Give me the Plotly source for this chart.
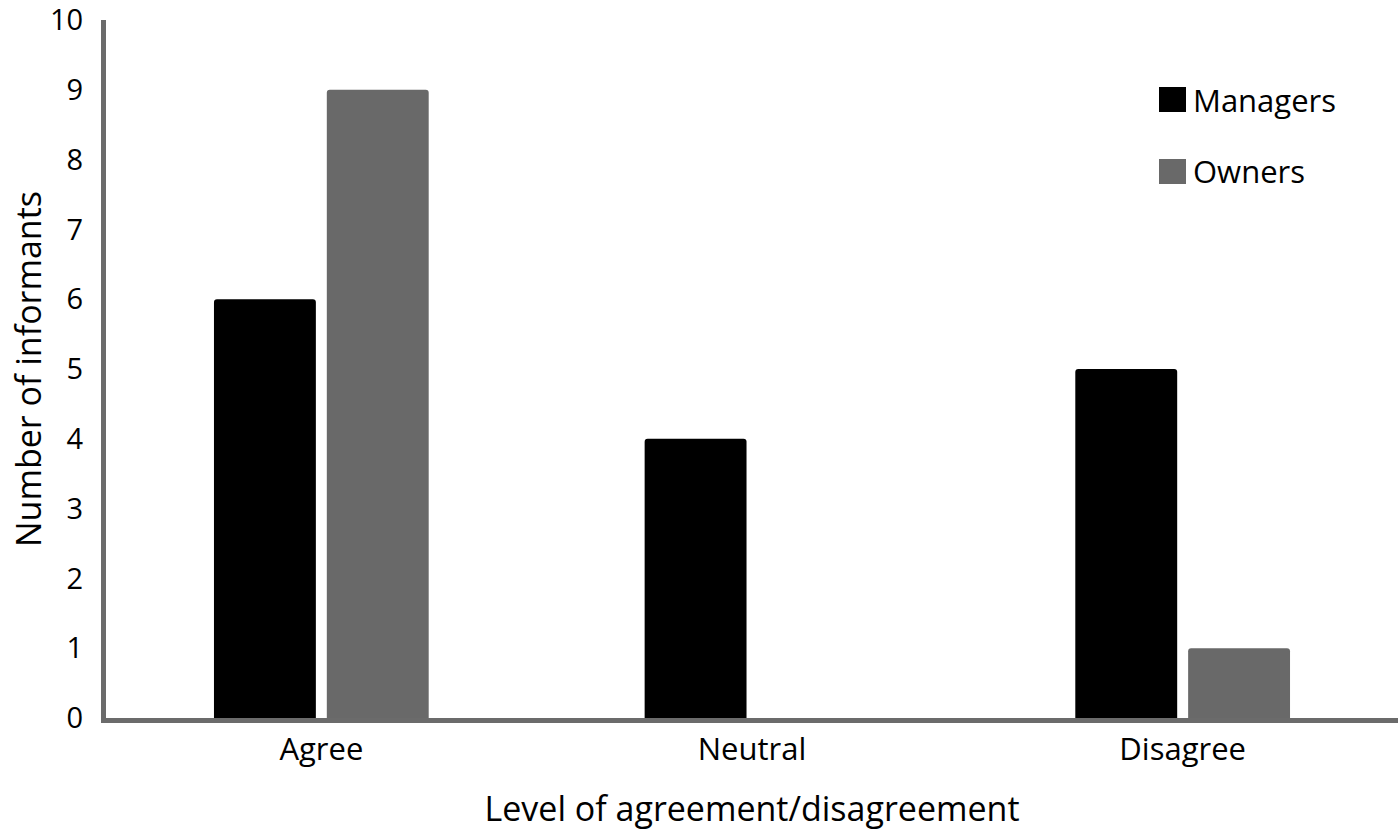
import plotly.graph_objects as go

categories = ["Agree", "Neutral", "Disagree"]
series_names = ["Managers", "Owners"]
managers = [6, 4, 5]
owners = [9, 0, 1]
y_ticks = list(range(0, 11))

colors = ["#000000", "#696969"]
FONT = "Open Sans"
W, H = 1400, 833
L, R, T, B = 106, 2, 20, 115

fig = go.Figure()
for name, vals, col in zip(series_names, [managers, owners], colors):
    fig.add_trace(go.Bar(
        x=categories, y=vals, name=name,
        marker=dict(color=col, line=dict(width=0), cornerradius=3),
        showlegend=False,
    ))

# legend drawn as shapes + text (larger swatches than plotly legend allows)
pw, ph = W - L - R, H - T - B
def px_x(p):
    return (p - L) / pw
def px_y(p):
    return (H - B - p) / ph

legend_rows = [(87, 112, 100), (159, 184, 171)]
shapes = []
annotations = []
for (y0, y1, yc), name, col in zip(legend_rows, series_names, colors):
    shapes.append(dict(type="rect", xref="paper", yref="paper",
                       x0=px_x(1159), x1=px_x(1186), y0=px_y(y1), y1=px_y(y0),
                       fillcolor=col, line=dict(width=0)))
    annotations.append(dict(xref="paper", yref="paper", x=px_x(1191), y=px_y(yc),
                            text=name, showarrow=False, xanchor="left", yanchor="middle",
                            font=dict(family=FONT, size=31, color="#000000")))

fig.update_layout(
    width=W, height=H,
    margin=dict(l=L, r=R, t=T, b=B, autoexpand=False),
    plot_bgcolor="white", paper_bgcolor="white",
    barmode="group", bargap=0.476, bargroupgap=0.097,
    font=dict(family=FONT, size=32, color="#000000"),
    shapes=shapes, annotations=annotations,
    xaxis=dict(
        automargin=False,
        showline=True, linecolor="#6b6b6b", linewidth=5,
        showgrid=False, ticks="", tickfont=dict(size=31),
        title=dict(text="Level of agreement/disagreement", font=dict(size=34), standoff=30),
    ),
    yaxis=dict(
        automargin=False,
        range=[0, 10], tickvals=y_ticks, showline=True, linecolor="#6b6b6b", linewidth=5,
        showgrid=False, zeroline=False, ticks="", tickfont=dict(size=29), ticklabelstandoff=12,
        ticklabeloverflow="allow",
        title=dict(text="Number of informants", font=dict(size=34), standoff=0),
    ),
)

fig.write_html("out.html", config={"displayModeBar": False},
               post_script="document.body.style.margin='0';")
